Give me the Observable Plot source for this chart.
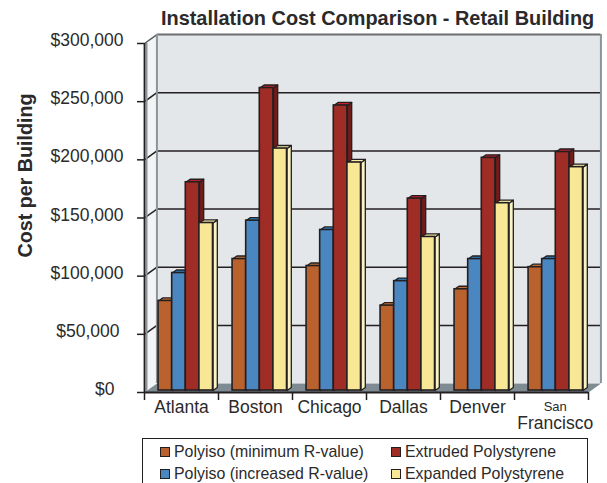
<!DOCTYPE html>
<html><head><meta charset="utf-8">
<script src="https://cdn.jsdelivr.net/npm/d3@7"></script>
<script src="https://cdn.jsdelivr.net/npm/@observablehq/plot@0.6"></script>
<style>
html,body{margin:0;padding:0;background:#fff;width:607px;height:483px;overflow:hidden;font-family:"Liberation Sans",Arial,sans-serif;color:#2b2a2b}
#title{height:28px;line-height:26px;font-weight:bold;font-size:19.9px;text-align:left;padding-left:161px;white-space:nowrap;box-sizing:border-box;padding-top:5px}
#legend{position:absolute;left:142px;top:438px;width:446px;height:60px;border:1.5px solid #231f20;box-sizing:border-box}
.it{position:absolute;font-size:15.9px;line-height:16px;white-space:nowrap}
.sw{position:absolute;width:8px;height:8px;border:1.3px solid #231f20}
</style></head><body>
<div id="title"></div>
<div id="chart"></div>
<div id="legend"></div>
<script>
const titleText = "Installation Cost Comparison - Retail Building";
const yLabel = "Cost per Building";
const categories = ["Atlanta","Boston","Chicago","Dallas","Denver","San Francisco"];
const seriesNames = ["Polyiso (minimum R-value)","Polyiso (increased R-value)","Extruded Polystyrene","Expanded Polystyrene"];
const polyisoMin = [77000,113000,107000,73000,87000,106000];
const polyisoInc = [101000,146000,138000,94000,113000,113000];
const extruded   = [179000,260000,245000,165000,200000,205000];
const expanded   = [144000,208000,196000,132000,161000,192000];
const seriesValues = [polyisoMin,polyisoInc,extruded,expanded];
const fronts = ["#b9622d","#4a86c0","#a02c26","#f8e795"];
const tops   = ["#c9743c","#2f86c8","#c4202a","#faeeaa"];
const sides  = ["#8f4a20","#2e6a9e","#6f1c1a","#fbf3c4"];
const yTicks = [0,50000,100000,150000,200000,250000,300000];
const yTickLabels = ["$0","$50,000","$100,000","$150,000","$200,000","$250,000","$300,000"];
const yLabelGap = [30,25,21,21,21,21,21];

// depth of the wall and of the bars, in scale units
const wallX = 0.168, wallY = 7700, barX = 0.058, barY = 2600;
const barStart = 0.19, barW = 0.184;

d3.select("#title").text(titleText);

const bars = seriesValues.map((vals,s)=>vals.map((v,i)=>({i,s,v,x1:i+barStart+s*barW,x2:i+barStart+(s+1)*barW})));
const poly = (id,pts)=>[...pts,pts[0]].map(([x,y])=>({id,x,y}));
const topPoly = bs=>bs.flatMap(b=>poly(b.i,[[b.x1,b.v],[b.x2,b.v],[b.x2+barX,b.v+barY],[b.x1+barX,b.v+barY]]));
const sidePoly = bs=>bs.flatMap(b=>poly(b.i,[[b.x2,0],[b.x2+barX,barY],[b.x2+barX,b.v+barY],[b.x2,b.v]]));
const ink = "#231f20", textInk = "#2b2a2b";
const barMarks = bars.flatMap((bs,s)=>[
  Plot.line(sidePoly(bs),{x:"x",y:"y",z:"id",fill:sides[s],stroke:ink,strokeWidth:1.3,dy:-2}),
  Plot.line(topPoly(bs),{x:"x",y:"y",z:"id",fill:tops[s],stroke:ink,strokeWidth:1.3,dy:-2}),
  Plot.rect(bs,{x1:"x1",x2:"x2",y1:()=>0,y2:"v",fill:fronts[s],stroke:ink,strokeWidth:1.6,dy:-2})
]);
const inner = yTicks.slice(1,-1);
const labelCats = categories.slice(0,5).map((c,i)=>({c,x:i+0.5}));
const yLabelMarks = yTicks.map((t,i)=>Plot.text([t],{x:()=>0,y:d=>d,text:()=>yTickLabels[i],textAnchor:"end",dx:-yLabelGap[i],dy:-3,fontSize:17.5,fill:textInk}));

const plot = Plot.plot({
  width:607,height:408,
  marginLeft:144,marginRight:19,marginTop:15,marginBottom:44,
  x:{type:"linear",domain:[0,6]},
  y:{type:"linear",domain:[0,300000]},
  style:{background:"transparent",overflow:"visible",fontFamily:"'Liberation Sans',Arial,sans-serif"},
  marks:[
    Plot.rect([0],{x1:()=>wallX,x2:()=>6+wallX,y1:()=>wallY,y2:()=>300000+wallY,fill:"#e4e7e9"}),
    Plot.line(poly(0,[[0,0],[wallX,wallY],[wallX,300000+wallY],[0,300000]]),{x:"x",y:"y",fill:"#f2f4f5"}),
    Plot.line(poly(0,[[0,0],[6,0],[6+wallX,wallY],[wallX,wallY]]),{x:"x",y:"y",fill:"#7f8b92"}),
    Plot.ruleY(inner,{x1:()=>wallX,x2:()=>6+wallX,y:d=>d+wallY,stroke:ink,strokeWidth:1.5}),
    Plot.link(inner,{x1:()=>0,x2:()=>wallX,y1:d=>d,y2:d=>d+wallY,stroke:ink,strokeWidth:1.5}),
    Plot.link([300000],{x1:()=>0,x2:()=>wallX,y1:d=>d,y2:d=>d+wallY,stroke:"#58595b",strokeWidth:1.5}),
    Plot.ruleY([300000],{x1:()=>wallX,x2:()=>6+wallX,y:d=>d+wallY,stroke:"#6d6e71",strokeWidth:2}),
    Plot.ruleX([0],{x:()=>wallX,y1:()=>wallY,y2:()=>300000+wallY,stroke:"#8c959b",strokeWidth:2}),
    Plot.ruleX([0],{x:()=>6+wallX,y1:()=>wallY,y2:()=>300000+wallY,stroke:"#8c959b",strokeWidth:2}),
    ...barMarks,
    Plot.ruleX([0],{y1:0,y2:300000,stroke:"#8c959b",strokeWidth:2,dx:2}),
    Plot.ruleX([0],{y1:0,y2:300000,stroke:ink,strokeWidth:1.8}),
    Plot.ruleY([0],{x1:0,x2:6,stroke:ink,strokeWidth:1.8}),
    Plot.axisY({ticks:yTicks,tickSize:7,tickFormat:()=>"",label:null,anchor:"left",stroke:ink,strokeWidth:1.5}),
    ...yLabelMarks,
    Plot.axisX({ticks:[0,1,2,3,4,5,6],tickSize:8,tickFormat:()=>"",label:null,stroke:ink,strokeWidth:1.5}),
    Plot.text(labelCats,{x:"x",y:()=>0,text:"c",dy:15,fontSize:17.5,fill:textInk}),
    Plot.text(["San"],{x:()=>5.55,y:()=>0,text:d=>d,dy:14.5,fontSize:13,fill:textInk}),
    Plot.text(["Francisco"],{x:()=>5.55,y:()=>0,text:d=>d,dy:31,fontSize:17.5,fill:textInk})
  ]
});
document.getElementById("chart").appendChild(plot);
// axis title
d3.select(plot).append("text").text(yLabel)
  .attr("transform","translate(32,147.5) rotate(-90)").attr("text-anchor","middle")
  .attr("font-weight","bold").attr("font-size",19.7).attr("fill",textInk);

const pos = [[17,7],[17,29],[248,7],[248,29]];
const lg = d3.select("#legend");
[0,1,2,3].forEach((s,k)=>{
  const [x,y]=pos[k];
  lg.append("div").attr("class","sw").style("left",x+"px").style("top",(y+1)+"px").style("background",fronts[s]);
  lg.append("div").attr("class","it").style("left",(x+14)+"px").style("top",(y-2)+"px").text(seriesNames[s]);
});
</script>
</body></html>
